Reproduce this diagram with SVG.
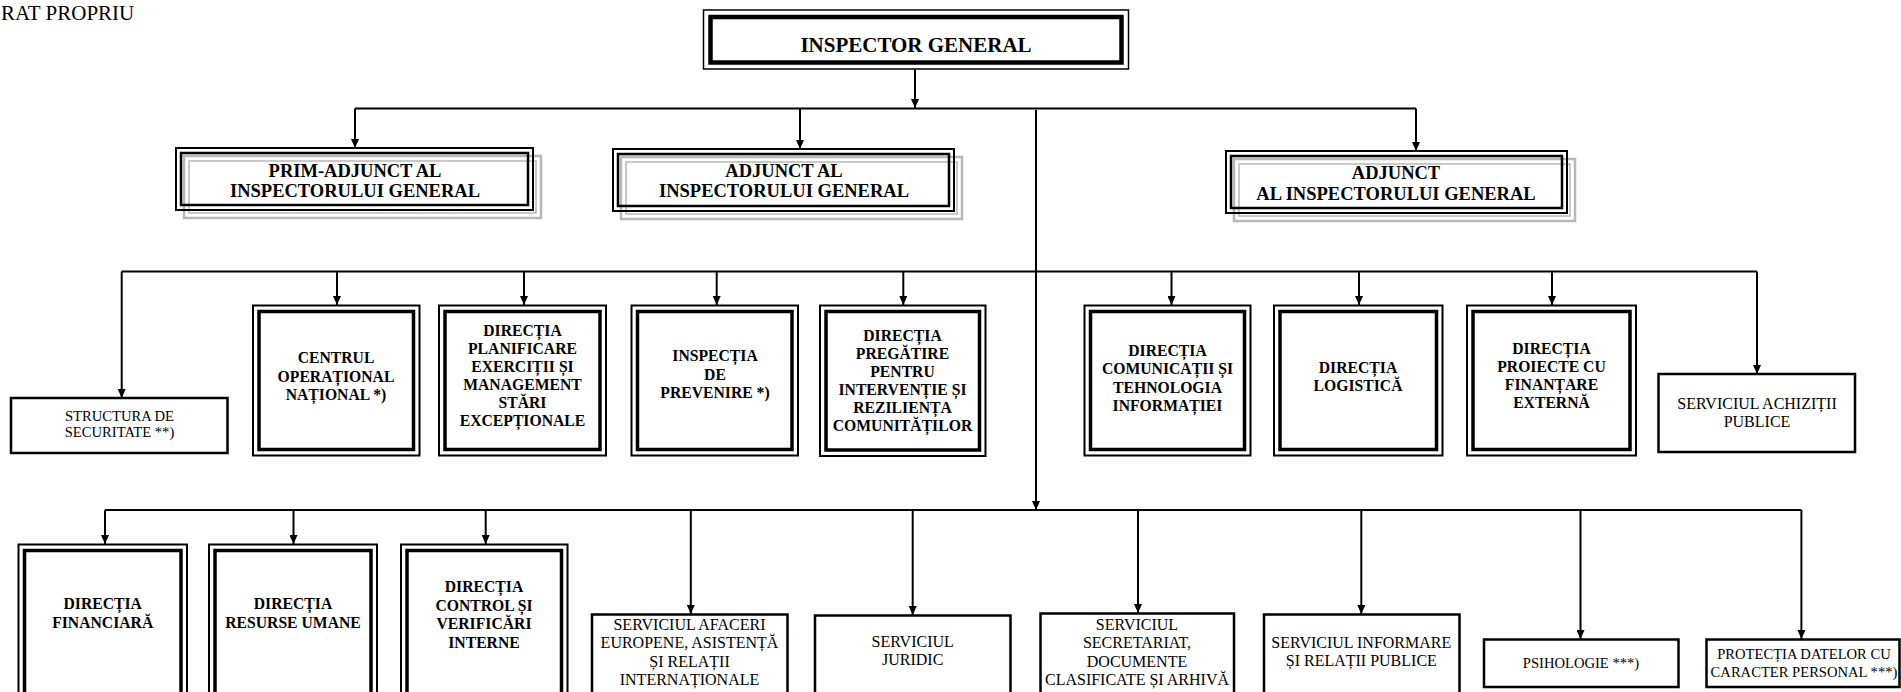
<svg xmlns="http://www.w3.org/2000/svg" width="1901" height="692" viewBox="0 0 1901 692">
<style>
.bg{fill:#fff}
.ln{fill:none;stroke:#000;stroke-width:2}
.o{fill:none;stroke:#000;stroke-width:2}
.i{fill:none;stroke:#000;stroke-width:3.5}
.s{fill:none;stroke:#000;stroke-width:2.5}
.g1{fill:none;stroke:#b8b8b8;stroke-width:2.5}
.g2{fill:none;stroke:#b8b8b8;stroke-width:1.5}
text{font-family:"Liberation Serif","Times New Roman",serif;fill:#000;text-anchor:middle}
.ig{font-size:21px;font-weight:bold}
.dp{font-size:18.5px;font-weight:bold}
.d{font-size:15.7px;font-weight:bold}
.sv{font-size:16px}
.fn{font-size:14.6px}
.hd{font-size:21px;text-anchor:start}
</style>
<defs>
<marker id="ar" markerUnits="userSpaceOnUse" markerWidth="9" markerHeight="8" refX="9" refY="4" orient="auto">
<path d="M0,0 L9,4 L0,8 z" fill="#000"/>
</marker>
</defs>
<rect class="bg" x="0" y="0" width="1901" height="692"/>
<text class="hd" x="1" y="20">RAT PROPRIU</text>

<g id="connectors">
<path class="ln" d="M915,69 V108" marker-end="url(#ar)"/>
<path class="ln" d="M355,108.5 H1416"/>
<path class="ln" d="M355,108.5 V148" marker-end="url(#ar)"/>
<path class="ln" d="M800,108.5 V149" marker-end="url(#ar)"/>
<path class="ln" d="M1416,108.5 V151" marker-end="url(#ar)"/>
<path class="ln" d="M1036,110 V510" marker-end="url(#ar)"/>
<path class="ln" d="M121.7,271.5 H1757"/>
<path class="ln" d="M121.7,271.5 V398" marker-end="url(#ar)"/>
<path class="ln" d="M337,271.5 V305" marker-end="url(#ar)"/>
<path class="ln" d="M524,271.5 V305" marker-end="url(#ar)"/>
<path class="ln" d="M716.7,271.5 V305" marker-end="url(#ar)"/>
<path class="ln" d="M903.3,271.5 V305" marker-end="url(#ar)"/>
<path class="ln" d="M1171.5,271.5 V305" marker-end="url(#ar)"/>
<path class="ln" d="M1359,271.5 V305" marker-end="url(#ar)"/>
<path class="ln" d="M1552,271.5 V305" marker-end="url(#ar)"/>
<path class="ln" d="M1757,271.5 V374" marker-end="url(#ar)"/>
<path class="ln" d="M105,510 H1801.4"/>
<path class="ln" d="M105,510 V544" marker-end="url(#ar)"/>
<path class="ln" d="M293.5,510 V544" marker-end="url(#ar)"/>
<path class="ln" d="M485.7,510 V544" marker-end="url(#ar)"/>
<path class="ln" d="M690.8,510 V614" marker-end="url(#ar)"/>
<path class="ln" d="M912.7,510 V615" marker-end="url(#ar)"/>
<path class="ln" d="M1138,510 V613" marker-end="url(#ar)"/>
<path class="ln" d="M1361.3,510 V614" marker-end="url(#ar)"/>
<path class="ln" d="M1580.5,510 V639" marker-end="url(#ar)"/>
<path class="ln" d="M1801.4,510 V639" marker-end="url(#ar)"/>
</g>

<g id="inspector-general">
<rect x="703.5" y="10" width="425" height="59" fill="none" stroke="#000" stroke-width="1.5"/>
<rect x="710.5" y="17" width="411" height="45.5" fill="none" stroke="#000" stroke-width="4.5"/>
<text class="ig" x="916" y="52">INSPECTOR GENERAL</text>
</g>

<g id="prim-adjunct">
<rect class="g1" x="184" y="156" width="357" height="62"/>
<rect class="g2" x="189" y="161" width="347" height="52"/>
<rect class="o" x="176" y="148" width="357" height="62"/>
<rect class="s" x="181" y="153" width="347" height="52"/>
<text class="dp" x="355" y="176.5">PRIM-ADJUNCT AL</text>
<text class="dp" x="355" y="197">INSPECTORULUI GENERAL</text>
</g>

<g id="adjunct-1">
<rect class="g1" x="621" y="157" width="341" height="62"/>
<rect class="g2" x="626" y="162" width="331" height="52"/>
<rect class="o" x="613" y="149" width="341" height="62"/>
<rect class="s" x="618" y="154" width="331" height="52"/>
<text class="dp" x="784" y="177">ADJUNCT AL</text>
<text class="dp" x="784" y="197">INSPECTORULUI GENERAL</text>
</g>

<g id="adjunct-2">
<rect class="g1" x="1234" y="159" width="341" height="62"/>
<rect class="g2" x="1239" y="164" width="331" height="52"/>
<rect class="o" x="1226" y="151" width="341" height="62"/>
<rect class="s" x="1231" y="156" width="331" height="52"/>
<text class="dp" x="1396" y="179">ADJUNCT</text>
<text class="dp" x="1396" y="200">AL INSPECTORULUI GENERAL</text>
</g>

<g id="structura-securitate">
<rect class="s" x="11" y="398" width="216.5" height="55"/>
<text class="fn" x="119.5" y="421">STRUCTURA DE</text>
<text class="fn" x="119.5" y="437">SECURITATE **)</text>
</g>

<g id="centrul-operational">
<rect class="o" x="253" y="305.5" width="166.5" height="150"/>
<rect class="i" x="259" y="311.5" width="154.5" height="138"/>
<text class="d" x="336" y="363">CENTRUL</text>
<text class="d" x="336" y="381.5">OPERAȚIONAL</text>
<text class="d" x="336" y="400">NAȚIONAL *)</text>
</g>

<g id="directia-planificare">
<rect class="o" x="439" y="305.5" width="167" height="150"/>
<rect class="i" x="445" y="311.5" width="155" height="138"/>
<text class="d" x="522.5" y="336">DIRECȚIA</text>
<text class="d" x="522.5" y="354">PLANIFICARE</text>
<text class="d" x="522.5" y="372">EXERCIȚII ȘI</text>
<text class="d" x="522.5" y="390">MANAGEMENT</text>
<text class="d" x="522.5" y="408">STĂRI</text>
<text class="d" x="522.5" y="426">EXCEPȚIONALE</text>
</g>

<g id="inspectia-prevenire">
<rect class="o" x="631.5" y="305.5" width="166.5" height="150"/>
<rect class="i" x="637.5" y="311.5" width="154.5" height="138"/>
<text class="d" x="715" y="361">INSPECȚIA</text>
<text class="d" x="715" y="379.5">DE</text>
<text class="d" x="715" y="398">PREVENIRE *)</text>
</g>

<g id="directia-pregatire">
<rect class="o" x="820" y="305.5" width="165.5" height="150.5"/>
<rect class="i" x="826" y="311.5" width="153.5" height="138.5"/>
<text class="d" x="902.5" y="341">DIRECȚIA</text>
<text class="d" x="902.5" y="359">PREGĂTIRE</text>
<text class="d" x="902.5" y="377">PENTRU</text>
<text class="d" x="902.5" y="395">INTERVENȚIE ȘI</text>
<text class="d" x="902.5" y="413">REZILIENȚA</text>
<text class="d" x="902.5" y="431">COMUNITĂȚILOR</text>
</g>

<g id="directia-comunicatii">
<rect class="o" x="1084.5" y="305.5" width="166" height="150"/>
<rect class="i" x="1090.5" y="311.5" width="154" height="138"/>
<text class="d" x="1167.5" y="355.5">DIRECȚIA</text>
<text class="d" x="1167.5" y="374">COMUNICAȚII ȘI</text>
<text class="d" x="1167.5" y="392.5">TEHNOLOGIA</text>
<text class="d" x="1167.5" y="411">INFORMAȚIEI</text>
</g>

<g id="directia-logistica">
<rect class="o" x="1274" y="305.5" width="168.5" height="150"/>
<rect class="i" x="1280" y="311.5" width="156.5" height="138"/>
<text class="d" x="1358" y="372.5">DIRECȚIA</text>
<text class="d" x="1358" y="391">LOGISTICĂ</text>
</g>

<g id="directia-proiecte">
<rect class="o" x="1467" y="305.5" width="169" height="150"/>
<rect class="i" x="1473" y="311.5" width="157" height="138"/>
<text class="d" x="1551.5" y="353.5">DIRECȚIA</text>
<text class="d" x="1551.5" y="371.5">PROIECTE CU</text>
<text class="d" x="1551.5" y="389.5">FINANȚARE</text>
<text class="d" x="1551.5" y="407.5">EXTERNĂ</text>
</g>

<g id="serviciul-achizitii">
<rect class="s" x="1658.5" y="374" width="196.5" height="78"/>
<text class="sv" x="1757" y="408.5">SERVICIUL ACHIZIȚII</text>
<text class="sv" x="1757" y="427">PUBLICE</text>
</g>

<g id="directia-financiara">
<rect class="o" x="18.5" y="544.5" width="168.5" height="160"/>
<rect class="i" x="24.5" y="550.5" width="156.5" height="160"/>
<text class="d" x="102.7" y="609">DIRECȚIA</text>
<text class="d" x="102.7" y="627.5">FINANCIARĂ</text>
</g>

<g id="directia-resurse-umane">
<rect class="o" x="209" y="544.5" width="168" height="160"/>
<rect class="i" x="215" y="550.5" width="156" height="160"/>
<text class="d" x="293" y="609">DIRECȚIA</text>
<text class="d" x="293" y="627.5">RESURSE UMANE</text>
</g>

<g id="directia-control">
<rect class="o" x="401" y="544.5" width="166.5" height="160"/>
<rect class="i" x="407" y="550.5" width="154.5" height="160"/>
<text class="d" x="484" y="592">DIRECȚIA</text>
<text class="d" x="484" y="610.5">CONTROL ȘI</text>
<text class="d" x="484" y="629">VERIFICĂRI</text>
<text class="d" x="484" y="647.5">INTERNE</text>
</g>

<g id="serviciul-afaceri-europene">
<rect class="s" x="592" y="614.5" width="195.5" height="90"/>
<text class="sv" x="689.5" y="630">SERVICIUL AFACERI</text>
<text class="sv" x="689.5" y="648.3">EUROPENE, ASISTENȚĂ</text>
<text class="sv" x="689.5" y="666.6">ȘI RELAȚII</text>
<text class="sv" x="689.5" y="685">INTERNAȚIONALE</text>
</g>

<g id="serviciul-juridic">
<rect class="s" x="815" y="615.5" width="195.5" height="90"/>
<text class="sv" x="912.7" y="646.7">SERVICIUL</text>
<text class="sv" x="912.7" y="665">JURIDIC</text>
</g>

<g id="serviciul-secretariat">
<rect class="s" x="1040.5" y="613.5" width="193.5" height="90"/>
<text class="sv" x="1137" y="630">SERVICIUL</text>
<text class="sv" x="1137" y="648.3">SECRETARIAT,</text>
<text class="sv" x="1137" y="666.6">DOCUMENTE</text>
<text class="sv" x="1137" y="685">CLASIFICATE ȘI ARHIVĂ</text>
</g>

<g id="serviciul-informare">
<rect class="s" x="1264" y="614.5" width="195.5" height="90"/>
<text class="sv" x="1361.3" y="648.3">SERVICIUL INFORMARE</text>
<text class="sv" x="1361.3" y="666">ȘI RELAȚII PUBLICE</text>
</g>

<g id="psihologie">
<rect class="s" x="1484" y="639.5" width="194.5" height="47.5"/>
<text class="fn" x="1581" y="668.3">PSIHOLOGIE ***)</text>
</g>

<g id="protectia-datelor">
<rect class="s" x="1706.5" y="639.5" width="193" height="47.5"/>
<text class="fn" x="1804" y="659.3">PROTECȚIA DATELOR CU</text>
<text class="fn" x="1804" y="676.7">CARACTER PERSONAL ***)</text>
</g>
</svg>
